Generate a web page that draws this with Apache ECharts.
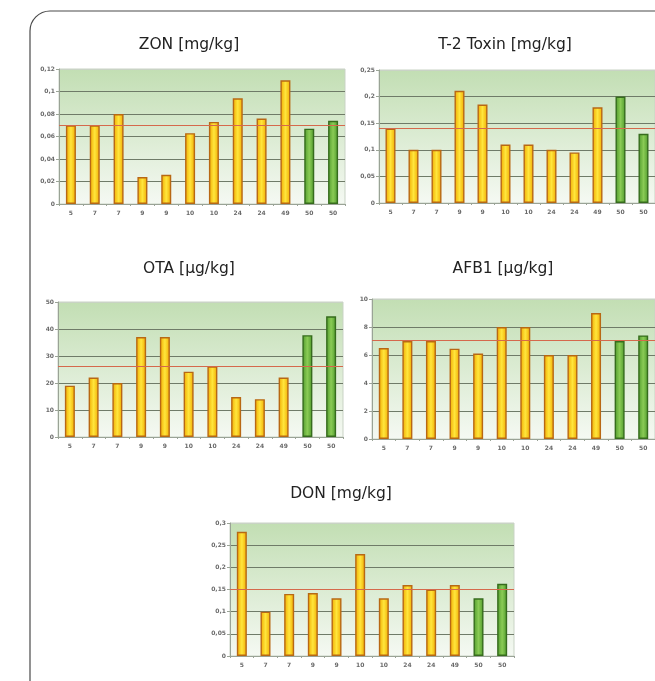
<!DOCTYPE html>
<html>
<head>
<meta charset="utf-8">
<script src="https://cdn.jsdelivr.net/npm/echarts@6/dist/echarts.min.js"></script>
<style>
  html, body { margin: 0; padding: 0; background: #ffffff; }
  #chart { width: 655px; height: 681px; }
</style>
</head>
<body>
<div id="chart"></div>
<script>
// Sample categories (shared by all five panels)
const categories = ['5', '7', '7', '9', '9', '10', '10', '24', '24', '49', '50', '50'];
// 'y' = regular sample (yellow), 'g' = reference sample (green)
const groups = ['y', 'y', 'y', 'y', 'y', 'y', 'y', 'y', 'y', 'y', 'g', 'g'];

const panelTitles = ['ZON [mg/kg]', 'T-2 Toxin [mg/kg]', 'OTA [µg/kg]', 'AFB1 [µg/kg]', 'DON [mg/kg]'];

const zonValues  = [0.07, 0.07, 0.08, 0.024, 0.026, 0.063, 0.073, 0.094, 0.076, 0.11, 0.067, 0.074];
const t2Values   = [0.14, 0.10, 0.10, 0.211, 0.185, 0.11, 0.11, 0.10, 0.095, 0.18, 0.20, 0.13];
const otaValues  = [19, 22, 20, 37, 37, 24.2, 26.2, 14.8, 14, 22, 37.7, 44.7];
const afb1Values = [6.5, 7.0, 7.0, 6.45, 6.1, 8, 8, 6, 6, 9, 7.0, 7.4];
const donValues  = [0.28, 0.10, 0.14, 0.142, 0.13, 0.23, 0.13, 0.16, 0.15, 0.16, 0.13, 0.163];

// Reference (mean) level drawn as a red line in each panel
const limits = [0.07, 0.145, 26.1, 7.05, 0.153];

// Y axis ranges
const yMax  = [0.12, 0.25, 50, 10, 0.3];
const yStep = [0.02, 0.05, 10, 2, 0.05];

const panelValues = [zonValues, t2Values, otaValues, afb1Values, donValues];

// Plot-area boxes (px)
const boxes = [
  { left: 59,  top: 69,  width: 286, height: 135 },
  { left: 379, top: 70,  width: 288, height: 133 },
  { left: 58,  top: 302, width: 285, height: 135 },
  { left: 372, top: 299, width: 292, height: 140 },
  { left: 230, top: 523, width: 284, height: 133 }
];
const titlePos = [
  { x: 189, y: 37 }, { x: 505, y: 37 },
  { x: 189, y: 261 }, { x: 503, y: 261 },
  { x: 341, y: 486 }
];

const yellowFill = {
  type: 'linear', x: 0, y: 0, x2: 1, y2: 0,
  colorStops: [
    { offset: 0, color: '#f0aa00' },
    { offset: 0.5, color: '#ffe63c' },
    { offset: 1, color: '#f0aa00' }
  ]
};
const greenFill = {
  type: 'linear', x: 0, y: 0, x2: 1, y2: 0,
  colorStops: [
    { offset: 0, color: '#4f9a2c' },
    { offset: 0.5, color: '#8acb55' },
    { offset: 1, color: '#4f9a2c' }
  ]
};
const plotBg = {
  type: 'linear', x: 0, y: 0, x2: 0, y2: 1,
  colorStops: [
    { offset: 0, color: '#c2deb3' },
    { offset: 1, color: '#f5f9f3' }
  ]
};

const tickFont = { fontSize: 6, fontWeight: 'bold', color: '#6a6a6a', fontFamily: 'DejaVu Sans' };

function fmt(v) {
  return String(+(+v).toFixed(4)).replace('.', ',');
}

const grid = [], xAxis = [], yAxis = [], series = [], title = [];

panelValues.forEach(function (vals, i) {
  grid.push(Object.assign({
    show: true,
    backgroundColor: plotBg,
    borderColor: '#c9d3c5',
    borderWidth: 1,
    containLabel: false
  }, boxes[i]));

  xAxis.push({
    type: 'category',
    gridIndex: i,
    data: categories,
    axisLine: { show: true, lineStyle: { color: '#9aa396', width: 1 } },
    axisTick: { show: true, length: 2, lineStyle: { color: '#9aa396' } },
    axisLabel: Object.assign({ margin: 6, interval: 0 }, tickFont),
    splitLine: { show: false }
  });

  const nTicks = Math.round(yMax[i] / yStep[i]) + 1;
  const lineColors = [];
  for (let k = 0; k < nTicks; k++) {
    lineColors.push(k === 0 ? '#9aa396' : (k === nTicks - 1 ? '#c9d3c5' : '#6f7b68'));
  }

  yAxis.push({
    type: 'value',
    gridIndex: i,
    min: 0,
    max: yMax[i],
    interval: yStep[i],
    axisLine: { show: true, lineStyle: { color: '#9aa396', width: 1 } },
    axisTick: { show: true, length: 3, lineStyle: { color: '#9aa396' } },
    axisLabel: Object.assign({ margin: 4, formatter: fmt }, tickFont),
    splitLine: { show: true, lineStyle: { color: lineColors, width: 1 } }
  });

  series.push({
    type: 'bar',
    xAxisIndex: i,
    yAxisIndex: i,
    barWidth: 10,
    data: vals.map(function (v, j) {
      const green = groups[j] === 'g';
      return {
        value: v,
        itemStyle: {
          color: green ? greenFill : yellowFill,
          borderColor: green ? '#366c1d' : '#b86814',
          borderWidth: 1.4
        }
      };
    }),
    markLine: {
      silent: true,
      symbol: 'none',
      label: { show: false },
      lineStyle: { color: '#d5694c', width: 1, type: 'solid' },
      data: [{ yAxis: limits[i] }]
    },
    animation: false
  });

  title.push({
    text: panelTitles[i],
    left: titlePos[i].x,
    top: titlePos[i].y,
    textAlign: 'center',
    padding: 0,
    textStyle: { fontSize: 15.5, fontWeight: 'normal', color: '#222222', fontFamily: 'DejaVu Sans' }
  });
});

const chart = echarts.init(document.getElementById('chart'), null, { renderer: 'canvas' });
chart.setOption({
  backgroundColor: '#ffffff',
  animation: false,
  title: title,
  grid: grid,
  xAxis: xAxis,
  yAxis: yAxis,
  series: series,
  graphic: [{
    type: 'rect',
    silent: true,
    z: 0,
    shape: { x: 30, y: 11, width: 720, height: 720, r: 20 },
    style: { fill: 'none', stroke: '#4a4a4a', lineWidth: 1.2 }
  }]
});
</script>
</body>
</html>
